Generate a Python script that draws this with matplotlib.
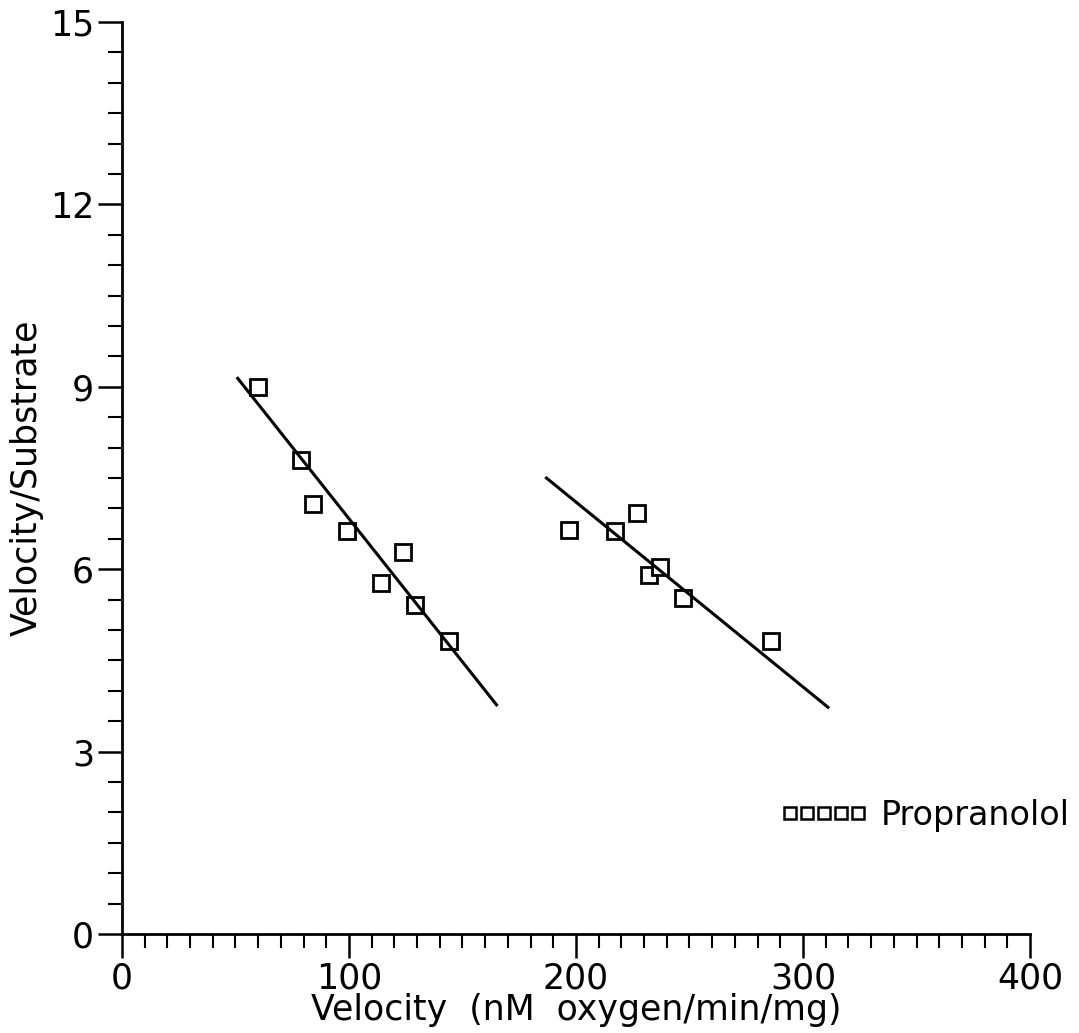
import numpy as np
import matplotlib
matplotlib.use("Agg")
import matplotlib.pyplot as plt
from matplotlib.ticker import MultipleLocator

# data
x_low = [60, 79, 84, 99, 114, 124, 129, 144]
y_low = [9.0, 7.8, 7.07, 6.63, 5.77, 6.29, 5.41, 4.82]
x_high = [197, 217, 227, 232, 237, 247, 286]
y_high = [6.64, 6.63, 6.93, 5.90, 6.03, 5.53, 4.82]

# fitted lines (endpoints as drawn)
fit_low_x = [51, 165]
fit_low_y = [9.14, 3.77]
fit_high_x = [187, 311]
fit_high_y = [7.50, 3.73]

plt.rcParams['font.family'] = ['DejaVu Sans']

fig = plt.figure(figsize=(10.79, 10.33), dpi=100)
ax = fig.add_axes([0.113, 0.0958, 0.8416, 0.8829])

mk = dict(marker='s', markersize=12, markerfacecolor='white',
          markeredgecolor='black', markeredgewidth=2.0, linestyle='none')
ax.plot(x_low, y_low, label='Propranolol', **mk)
ax.plot(x_high, y_high, **mk)
ax.plot(fit_low_x, fit_low_y, color='black', lw=2.2)
ax.plot(fit_high_x, fit_high_y, color='black', lw=2.2)

ax.set_xlim(0, 400)
ax.set_ylim(0, 15)
ax.xaxis.set_major_locator(MultipleLocator(100))
ax.xaxis.set_minor_locator(MultipleLocator(10))
ax.yaxis.set_major_locator(MultipleLocator(3))
ax.yaxis.set_minor_locator(MultipleLocator(0.5))
ax.tick_params(which='major', direction='out', length=17, width=1.8,
               labelsize=25, pad=3)
ax.tick_params(which='minor', direction='out', length=10, width=1.5)

for s in ['top', 'right']:
    ax.spines[s].set_visible(False)
for s in ['left', 'bottom']:
    ax.spines[s].set_linewidth(2)

ax.set_xlabel('Velocity  (nM  oxygen/min/mg)', fontsize=25, labelpad=-2)
ax.set_ylabel('Velocity/Substrate', fontsize=25, labelpad=4)

leg = ax.legend(loc='center right', bbox_to_anchor=(1.044, 0.13), numpoints=5,
                handlelength=2.64, frameon=False, fontsize=24, markerscale=0.72,
                handletextpad=0.4, borderpad=0, borderaxespad=0)
for h in leg.legend_handles:
    h.set_markeredgewidth(1.8)

fig.savefig('out.png', dpi=100)
